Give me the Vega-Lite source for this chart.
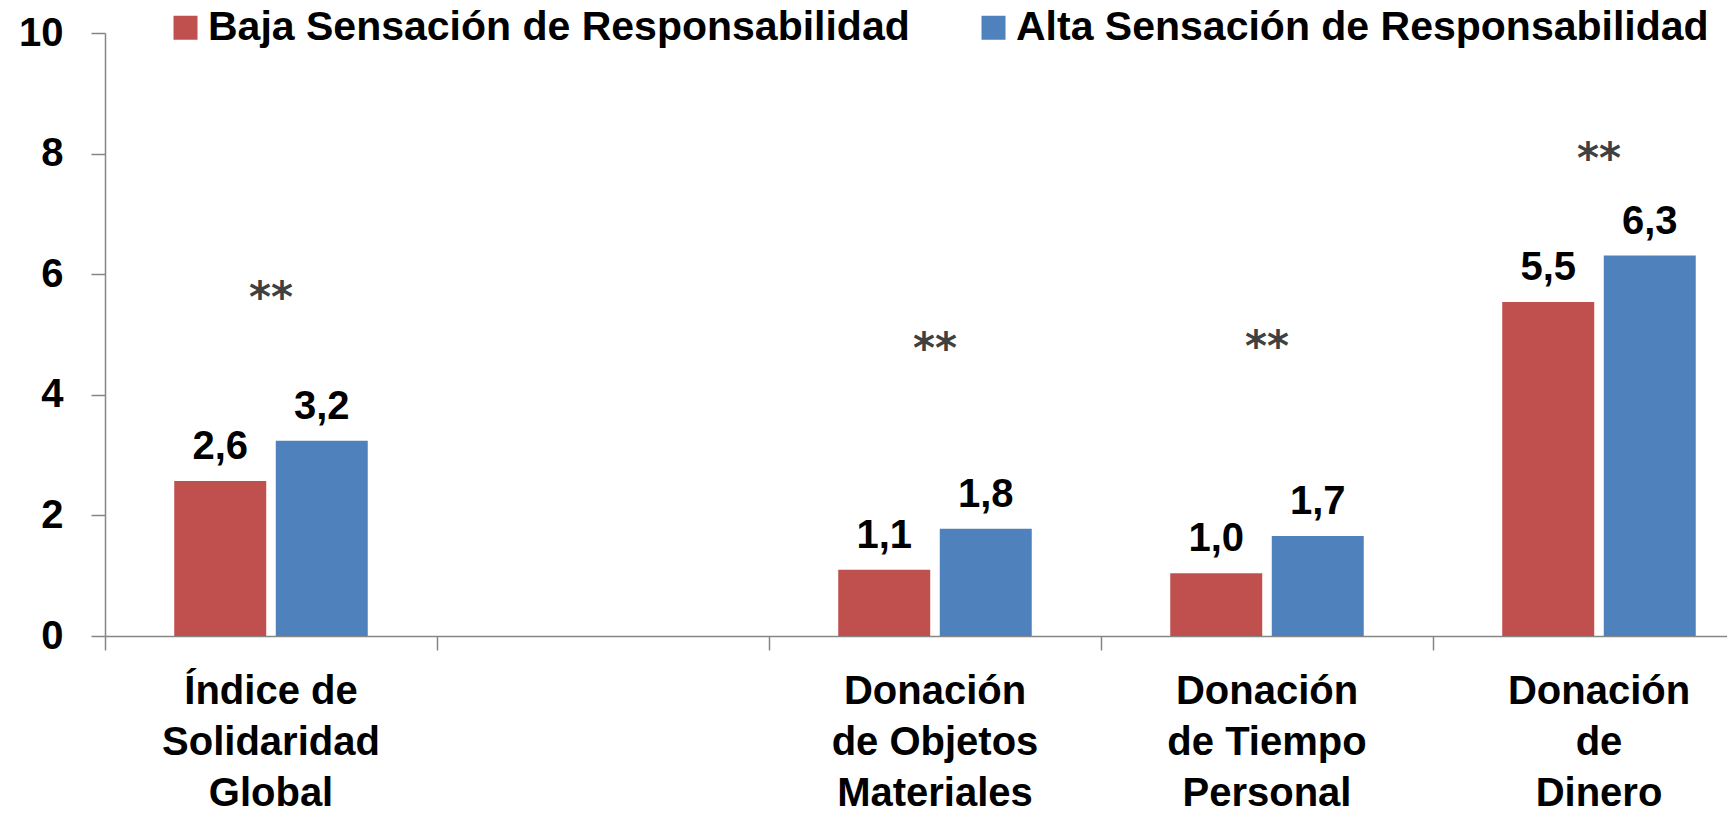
{
  "$schema": "https://vega.github.io/schema/vega-lite/v6.json",
  "autosize": "none",
  "width": 1622,
  "height": 603,
  "padding": {"left": 105, "top": 33, "right": 0, "bottom": 177},
  "background": "white",
  "config": {
    "view": {"stroke": null},
    "locale": {"number": {"decimal": ",", "thousands": ".", "grouping": [3], "currency": ["", " €"]}},
    "font": "Liberation Sans"
  },
  "datasets": {
    "barras": [
      {"categoria": "Índice de Solidaridad Global", "grupo": "Baja Sensación de Responsabilidad", "valor": 2.57},
      {"categoria": "Índice de Solidaridad Global", "grupo": "Alta Sensación de Responsabilidad", "valor": 3.24},
      {"categoria": "Donación de Objetos Materiales", "grupo": "Baja Sensación de Responsabilidad", "valor": 1.10},
      {"categoria": "Donación de Objetos Materiales", "grupo": "Alta Sensación de Responsabilidad", "valor": 1.78},
      {"categoria": "Donación de Tiempo Personal", "grupo": "Baja Sensación de Responsabilidad", "valor": 1.04},
      {"categoria": "Donación de Tiempo Personal", "grupo": "Alta Sensación de Responsabilidad", "valor": 1.66},
      {"categoria": "Donación de Dinero", "grupo": "Baja Sensación de Responsabilidad", "valor": 5.54},
      {"categoria": "Donación de Dinero", "grupo": "Alta Sensación de Responsabilidad", "valor": 6.31}
    ],
    "signif": [
      {"categoria": "Índice de Solidaridad Global", "marca": "**", "nivel": 5.38},
      {"categoria": "Donación de Objetos Materiales", "marca": "**", "nivel": 4.52},
      {"categoria": "Donación de Tiempo Personal", "marca": "**", "nivel": 4.56},
      {"categoria": "Donación de Dinero", "marca": "**", "nivel": 7.68}
    ]
  },
  "layer": [
    {
      "data": {"name": "barras"},
      "mark": {"type": "bar"},
      "encoding": {
        "x": {
          "field": "categoria",
          "type": "nominal",
          "scale": {
            "domain": ["Índice de Solidaridad Global", " ", "Donación de Objetos Materiales", "Donación de Tiempo Personal", "Donación de Dinero"],
            "range": [0, 1660],
            "paddingInner": 0,
            "paddingOuter": 0
          },
          "axis": {
            "title": null,
            "bandPosition": 0,
            "tickSize": 14,
            "tickColor": "#868686",
            "tickWidth": 1.5,
            "domainColor": "#868686",
            "domainWidth": 1.5,
            "labelPadding": 21,
            "labelFont": "Liberation Sans",
            "labelFontWeight": "bold",
            "labelFontSize": 40,
            "labelColor": "black",
            "labelLineHeight": 51,
            "labelBaseline": "top",
            "labelAngle": 0,
            "labelAlign": "center",
            "labelOverlap": false,
            "labelFlush": false,
            "labelBound": false,
            "labelLimit": 0,
            "labelExpr": "datum.value == 'Índice de Solidaridad Global' ? ['Índice de', 'Solidaridad', 'Global'] : datum.value == 'Donación de Objetos Materiales' ? ['Donación', 'de Objetos', 'Materiales'] : datum.value == 'Donación de Tiempo Personal' ? ['Donación', 'de Tiempo', 'Personal'] : datum.value == 'Donación de Dinero' ? ['Donación', 'de', 'Dinero'] : ''"
          }
        },
        "xOffset": {
          "field": "grupo",
          "type": "nominal",
          "scale": {"domain": ["Baja Sensación de Responsabilidad", "Alta Sensación de Responsabilidad"], "paddingInner": 0.094, "paddingOuter": 0.682}
        },
        "y": {
          "field": "valor",
          "type": "quantitative",
          "scale": {"domain": [0, 10], "nice": false},
          "axis": {
            "title": null,
            "values": [0, 2, 4, 6, 8, 10],
            "format": "d",
            "tickSize": 14,
            "tickColor": "#868686",
            "tickWidth": 1.5,
            "domainColor": "#868686",
            "domainWidth": 1.5,
            "labelPadding": 28,
            "labelFont": "Liberation Sans",
            "labelFontWeight": "bold",
            "labelFontSize": 40,
            "labelColor": "black",
            "grid": false,
            "labelFlush": false,
            "labelBound": false,
            "labelOverlap": false
          }
        },
        "color": {
          "field": "grupo",
          "type": "nominal",
          "scale": {"domain": ["Baja Sensación de Responsabilidad", "Alta Sensación de Responsabilidad"], "range": ["#C0504D", "#4F81BD"]},
          "legend": {
            "title": null,
            "orient": "none",
            "legendX": 60,
            "legendY": -26,
            "direction": "horizontal",
            "symbolType": "square",
            "symbolSize": 576,
            "symbolStrokeWidth": 0,
            "symbolOpacity": 1,
            "labelFont": "Liberation Sans",
            "labelFontWeight": "bold",
            "labelFontSize": 41,
            "labelColor": "black",
            "labelOffset": 2,
            "columnPadding": 63,
            "labelLimit": 0
          }
        }
      }
    },
    {
      "data": {"name": "barras"},
      "mark": {"type": "text", "baseline": "alphabetic", "dy": -22, "font": "Liberation Sans", "fontWeight": "bold", "fontSize": 40, "color": "black"},
      "encoding": {
        "x": {"field": "categoria", "type": "nominal"},
        "xOffset": {"field": "grupo", "type": "nominal"},
        "y": {"field": "valor", "type": "quantitative"},
        "text": {"field": "valor", "type": "quantitative", "format": ".1f"}
      }
    },
    {
      "data": {"name": "signif"},
      "mark": {"type": "text", "baseline": "alphabetic", "font": "DejaVu Sans", "fontWeight": "bold", "fontSize": 42, "color": "#404040"},
      "encoding": {
        "x": {"field": "categoria", "type": "nominal"},
        "y": {"field": "nivel", "type": "quantitative"},
        "text": {"field": "marca", "type": "nominal"}
      }
    }
  ]
}
